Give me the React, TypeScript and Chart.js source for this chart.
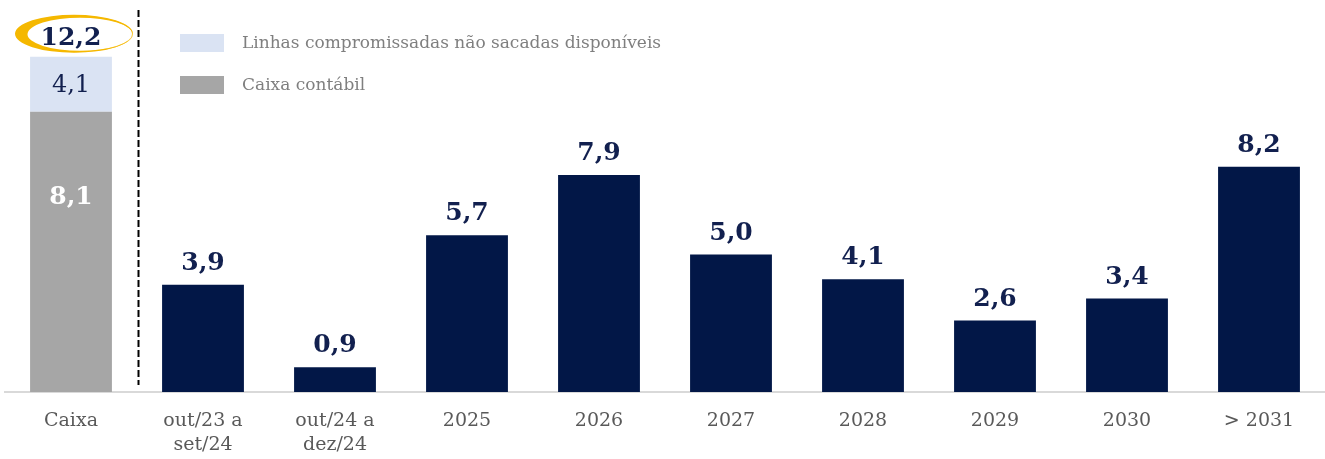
import React, { useEffect, useRef } from "react";
import { Chart, registerables } from "chart.js";

Chart.register(...registerables);

// ---- data ----
const categories: string[][] = [
  ["Caixa"],
  ["out/23 a", "set/24"],
  ["out/24 a", "dez/24"],
  ["2025"],
  ["2026"],
  ["2027"],
  ["2028"],
  ["2029"],
  ["2030"],
  ["> 2031"],
];

// Cronograma de amortização (R$ bi)
const amortizacao: (number | null)[] = [null, 3.9, 0.9, 5.7, 7.9, 5.0, 4.1, 2.6, 3.4, 8.2];

// Caixa: printed values
const caixaContabil = 8.1;
const linhasNaoSacadas = 4.1;
const caixaTotal = 12.2;

// Caixa bar segment heights as drawn in the picture (the original stack is not to scale per segment)
const caixaContabilDrawn: (number | null)[] = [10.2, null, null, null, null, null, null, null, null, null];
const linhasDrawn: (number | null)[] = [2.0, null, null, null, null, null, null, null, null, null];

const legendLabels = ["Linhas compromissadas não sacadas disponíveis", "Caixa contábil"];

// ---- styles ----
const NAVY = "#021747";
const LABEL_NAVY = "#12204f";
const GRAY = "#a6a6a6";
const LIGHT_BLUE = "#dae3f3";
const GOLD = "#f5b800";
const FONT = "'DejaVu Serif', Georgia, serif";

const fmt = (v: number) => v.toFixed(1).replace(".", ",");

const overlayPlugin = {
  id: "overlay",
  afterDraw(chart: any) {
    const ctx = chart.ctx as CanvasRenderingContext2D;
    const area = chart.chartArea;
    const xScale = chart.scales.x;
    ctx.save();

    // dashed separator between Caixa and the schedule
    const sepX = (xScale.getPixelForValue(0) + xScale.getPixelForValue(1)) / 2 + 1.5;
    ctx.strokeStyle = "#000000";
    ctx.lineWidth = 2;
    ctx.setLineDash([7, 3]);
    ctx.beginPath();
    ctx.moveTo(sepX, area.top);
    ctx.lineTo(sepX, area.bottom - 7);
    ctx.stroke();
    ctx.setLineDash([]);

    // value labels above navy bars
    const navyMeta = chart.getDatasetMeta(2);
    ctx.textAlign = "center";
    ctx.textBaseline = "alphabetic";
    ctx.fillStyle = LABEL_NAVY;
    ctx.font = `bold 25px ${FONT}`;
    amortizacao.forEach((v, i) => {
      if (v == null) return;
      const el = navyMeta.data[i];
      ctx.fillText(fmt(v), el.x, el.y - 15);
    });

    // Caixa stack labels
    const grayEl = chart.getDatasetMeta(0).data[0];
    const blueEl = chart.getDatasetMeta(1).data[0];
    ctx.fillStyle = "#ffffff";
    ctx.font = `bold 25px ${FONT}`;
    ctx.fillText(fmt(caixaContabil), grayEl.x, grayEl.y + 92);
    ctx.fillStyle = LABEL_NAVY;
    ctx.font = `24px ${FONT}`;
    ctx.fillText(fmt(linhasNaoSacadas), blueEl.x, (blueEl.y + blueEl.base) / 2 + 8);

    // total with golden swoosh ellipse (crescent, thick on the left)
    const cx = blueEl.x + 3;
    const cy = blueEl.y - 23;
    ctx.fillStyle = GOLD;
    ctx.beginPath();
    ctx.ellipse(cx, cy, 59, 19, 0, 0, Math.PI * 2);
    ctx.ellipse(cx + 6, cy + 0.5, 52.5, 16.5, 0, 0, Math.PI * 2, true);
    ctx.fill("evenodd");
    ctx.strokeStyle = "rgba(245,184,0,0.55)";
    ctx.lineWidth = 1;
    ctx.beginPath();
    ctx.ellipse(cx + 2.5, cy + 0.2, 56, 17.8, 0, 0, Math.PI * 2);
    ctx.stroke();

    ctx.fillStyle = LABEL_NAVY;
    ctx.font = `bold 25px ${FONT}`;
    ctx.fillText(fmt(caixaTotal), blueEl.x, blueEl.y - 12);

    // legend
    const legendColors = [LIGHT_BLUE, GRAY];
    const legendY = [34, 76];
    ctx.textAlign = "left";
    ctx.textBaseline = "middle";
    ctx.font = `17px ${FONT}`;
    legendLabels.forEach((lab, i) => {
      ctx.fillStyle = legendColors[i];
      ctx.fillRect(180, legendY[i], 44, 18);
      ctx.fillStyle = "#7f7f7f";
      ctx.fillText(lab, 242, legendY[i] + 10);
    });

    ctx.restore();
  },
};

export default function App() {
  const canvasRef = useRef<HTMLCanvasElement | null>(null);

  useEffect(() => {
    if (!canvasRef.current) return;
    const chart = new Chart(canvasRef.current, {
      type: "bar",
      data: {
        labels: categories,
        datasets: [
          {
            label: legendLabels[1],
            data: caixaContabilDrawn,
            backgroundColor: GRAY,
            barPercentage: 1,
            categoryPercentage: 0.62,
          },
          {
            label: legendLabels[0],
            data: linhasDrawn,
            backgroundColor: LIGHT_BLUE,
            barPercentage: 1,
            categoryPercentage: 0.62,
          },
          {
            label: "Amortização",
            data: amortizacao,
            backgroundColor: NAVY,
            barPercentage: 1,
            categoryPercentage: 0.62,
          },
        ],
      },
      options: {
        animation: false,
        responsive: true,
        maintainAspectRatio: false,
        layout: { padding: { left: 5, right: 0, top: 10, bottom: 0 } },
        plugins: {
          legend: { display: false },
          tooltip: { enabled: false },
        },
        scales: {
          x: {
            stacked: true,
            grid: { display: false, drawTicks: false },
            border: { display: true, color: "#d9d9d9", width: 2 },
            ticks: {
              color: "#595959",
              font: { family: FONT, size: 19, lineHeight: 1.25 },
              padding: 17,
              maxRotation: 0,
              autoSkip: false,
            },
            afterFit: (scale: any) => {
              scale.height = 67;
            },
          },
          y: {
            stacked: true,
            display: false,
            min: 0,
            max: 13.9,
          },
        },
      },
      plugins: [overlayPlugin],
    });
    return () => chart.destroy();
  }, []);

  return (
    <div style={{ position: "fixed", left: 0, top: 0, width: 1325, height: 459, background: "#ffffff" }}>
      <canvas ref={canvasRef} />
    </div>
  );
}
